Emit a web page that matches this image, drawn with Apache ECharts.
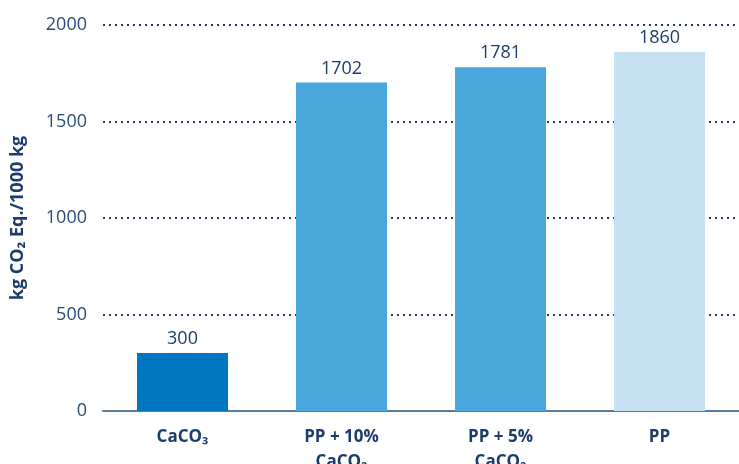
<!DOCTYPE html>
<html>
<head>
<meta charset="utf-8">
<script src="https://cdn.jsdelivr.net/npm/echarts@6/dist/echarts.min.js"></script>
<style>
  html, body { margin: 0; padding: 0; background: #fff; }
  #chart { width: 739px; height: 464px; }
</style>
</head>
<body>
<div id="chart"></div>
<script>
var categories = ["CaCO₃", "PP + 10%\nCaCO₃", "PP + 5%\nCaCO₃", "PP"];
var values = [300, 1702, 1781, 1860];
var barColors = ["#0077c0", "#4aa7dc", "#4aa7dc", "#c5e1f2"];

var navy = "#1d3c6a";
var chart = echarts.init(document.getElementById("chart"));

var option = {
  animation: false,
  textStyle: { fontFamily: "Open Sans" },
  grid: { left: 103, right: 0, top: 25, bottom: 53, outerBoundsMode: "none", containLabel: false },
  xAxis: {
    type: "category",
    data: categories,
    axisLine: { lineStyle: { color: "#5f7a98", width: 2 } },
    axisTick: { show: false },
    axisLabel: {
      color: navy,
      fontSize: 17,
      fontWeight: "bold",
      lineHeight: 25,
      margin: 14
    }
  },
  yAxis: {
    type: "value",
    min: 0,
    max: 2000,
    interval: 500,
    name: "kg CO₂ Eq./1000 kg",
    nameLocation: "middle",
    nameGap: 76,
    nameTextStyle: { color: navy, fontSize: 18, fontWeight: "bold" },
    axisLine: { show: false },
    axisTick: { show: false },
    axisLabel: {
      color: "#2d4a73",
      fontSize: 18,
      margin: 16,
      formatter: function (v) { return String(v); }
    },
    splitLine: {
      lineStyle: { color: navy, type: [2, 4], width: 2 }
    }
  },
  series: [
    {
      type: "bar",
      barWidth: 91,
      data: values.map(function (v, i) {
        return { value: v, itemStyle: { color: barColors[i] } };
      }),
      label: {
        show: true,
        position: "top",
        distance: 5,
        color: navy,
        fontSize: 18
      }
    }
  ]
};

chart.setOption(option);
</script>
</body>
</html>
